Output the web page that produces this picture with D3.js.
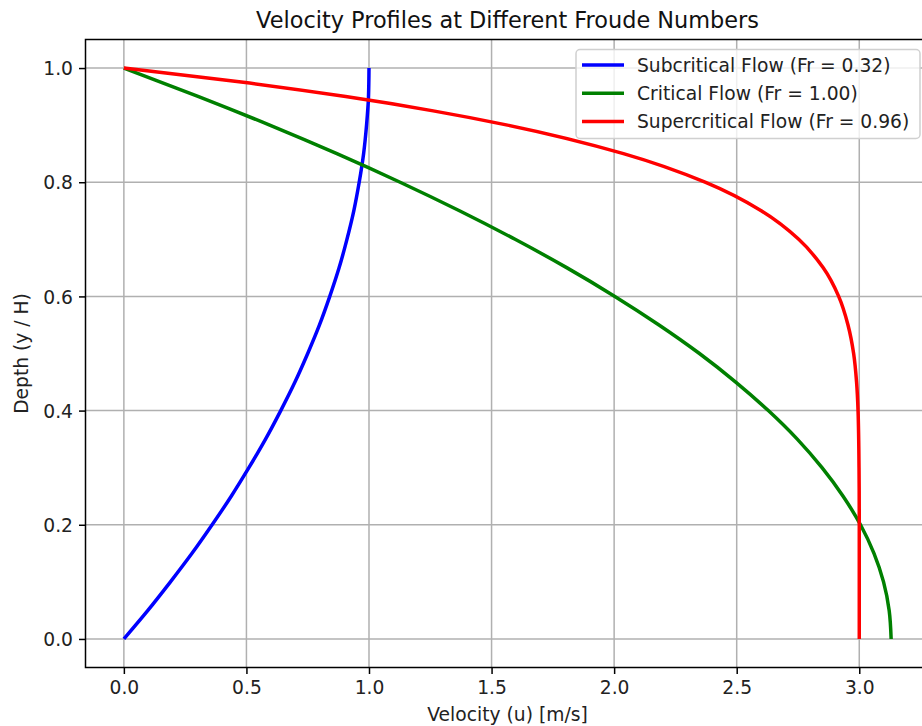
<!DOCTYPE html>
<html>
<head>
<meta charset="utf-8">
<script src="https://cdn.jsdelivr.net/npm/d3@7"></script>
<style>
  body { margin: 0; background: #fff; }
  svg { display: block; font-family: "DejaVu Sans", sans-serif; }
</style>
</head>
<body>
<div id="chart"></div>
<script>
// values
var depth = [0, 0.05, 0.1, 0.15, 0.2, 0.25, 0.3, 0.35, 0.4, 0.45, 0.5,
             0.55, 0.6, 0.65, 0.7, 0.75, 0.8, 0.85, 0.9, 0.95, 1.0];
var uSub = [0, 0.098, 0.19, 0.278, 0.36, 0.438, 0.51, 0.578, 0.64, 0.698, 0.75,
            0.798, 0.84, 0.878, 0.91, 0.938, 0.96, 0.978, 0.99, 0.998, 1.0];
var uCrit = [3.13, 3.122, 3.099, 3.06, 3.005, 2.934, 2.848, 2.747, 2.629, 2.496, 2.348,
             2.183, 2.003, 1.808, 1.596, 1.369, 1.127, 0.869, 0.595, 0.305, 0];
var depthSuper = [0, 0.1, 0.2, 0.3, 0.4, 0.45, 0.5, 0.55, 0.6, 0.65, 0.7,
                  0.75, 0.8, 0.85, 0.9, 0.925, 0.95, 0.975, 1.0];
var uSuper = [3.0, 3.0, 3.0, 2.999, 2.995, 2.989, 2.977, 2.954, 2.916, 2.853, 2.753,
              2.6, 2.371, 2.038, 1.565, 1.262, 0.905, 0.487, 0];

var xTicks = [0, 0.5, 1.0, 1.5, 2.0, 2.5, 3.0];
var yTicks = [0, 0.2, 0.4, 0.6, 0.8, 1.0];
var seriesNames = ["Subcritical Flow (Fr = 0.32)", "Critical Flow (Fr = 1.00)", "Supercritical Flow (Fr = 0.96)"];
var seriesColors = ["#0000ff", "#008000", "#ff0000"];

var svgWidth = 922, svgHeight = 726;
var plot = {left: 85.5, right: 929.5, top: 39.5, bottom: 667.5};
var fs = 18.7;

var svg = d3.select("#chart").append("svg")
  .attr("width", svgWidth)
  .attr("height", svgHeight);

var x = d3.scaleLinear().domain([-0.1565, 3.2865]).range([plot.left, plot.right]);
var y = d3.scaleLinear().domain([-0.05, 1.05]).range([plot.bottom, plot.top]);

svg.append("clipPath").attr("id", "clip")
  .append("rect")
  .attr("x", plot.left).attr("y", plot.top)
  .attr("width", plot.right - plot.left).attr("height", plot.bottom - plot.top);

// grid
var grid = svg.append("g").attr("stroke", "#b0b0b0").attr("stroke-width", 1.5);
grid.selectAll(".gx").data(xTicks).enter().append("line")
  .attr("x1", d => x(d)).attr("x2", d => x(d))
  .attr("y1", plot.top).attr("y2", plot.bottom);
grid.selectAll(".gy").data(yTicks).enter().append("line")
  .attr("x1", plot.left).attr("x2", plot.right)
  .attr("y1", d => y(d)).attr("y2", d => y(d));

// curves
var series = [
  depth.map((d, i) => [uSub[i], d]),
  depth.map((d, i) => [uCrit[i], d]),
  depthSuper.map((d, i) => [uSuper[i], d])
];
var line = d3.line()
  .x(d => x(d[0]))
  .y(d => y(d[1]))
  .curve(d3.curveMonotoneY);

svg.append("g").attr("clip-path", "url(#clip)")
  .selectAll("path").data(series).enter().append("path")
  .attr("d", line)
  .attr("fill", "none")
  .attr("stroke", (d, i) => seriesColors[i])
  .attr("stroke-width", 3.5)
  .attr("stroke-linejoin", "round")
  .attr("stroke-linecap", "butt");

// axes
var xAxis = svg.append("g")
  .attr("transform", `translate(0, ${plot.bottom})`)
  .call(d3.axisBottom(x).tickValues(xTicks).tickFormat(d3.format(".1f")).tickSize(6.5).tickPadding(5.5).tickSizeOuter(0));
var yAxis = svg.append("g")
  .attr("transform", `translate(${plot.left}, 0)`)
  .call(d3.axisLeft(y).tickValues(yTicks).tickFormat(d3.format(".1f")).tickSize(6.5).tickPadding(6).tickSizeOuter(0));

[xAxis, yAxis].forEach(function(ax) {
  ax.select(".domain").remove();
  ax.selectAll(".tick line").attr("stroke", "#000").attr("stroke-width", 1.5);
  ax.selectAll(".tick text")
    .attr("fill", "#222")
    .style("font-family", "DejaVu Sans")
    .style("font-size", fs + "px");
});
xAxis.selectAll(".tick text").attr("dy", "0.76em");
yAxis.selectAll(".tick text").attr("dy", "0.36em");

// spines (right one falls outside the picture)
svg.append("rect")
  .attr("x", plot.left).attr("y", plot.top)
  .attr("width", plot.right - plot.left).attr("height", plot.bottom - plot.top)
  .attr("fill", "none").attr("stroke", "#000").attr("stroke-width", 1.5);

// title and labels
svg.append("text")
  .attr("x", (plot.left + plot.right) / 2).attr("y", 28)
  .attr("text-anchor", "middle")
  .style("font-size", "22.4px")
  .attr("fill", "#111")
  .text("Velocity Profiles at Different Froude Numbers");

svg.append("text")
  .attr("x", (plot.left + plot.right) / 2).attr("y", 721)
  .attr("text-anchor", "middle")
  .style("font-size", fs + "px")
  .attr("fill", "#222")
  .text("Velocity (u) [m/s]");

svg.append("text")
  .attr("transform", `translate(28, ${(plot.top + plot.bottom) / 2}) rotate(-90)`)
  .attr("text-anchor", "middle")
  .style("font-size", fs + "px")
  .attr("fill", "#222")
  .text("Depth (y / H)");

// legend
var legend = svg.append("g");
legend.append("rect")
  .attr("x", 576).attr("y", 49.5)
  .attr("width", 344).attr("height", 89)
  .attr("rx", 4).attr("ry", 4)
  .attr("fill", "#fff").attr("fill-opacity", 0.8)
  .attr("stroke", "#d0d0d0").attr("stroke-width", 1.5);

var rows = legend.selectAll(".row").data(seriesNames).enter().append("g")
  .attr("transform", (d, i) => `translate(0, ${65 + i * 28.3})`);
rows.append("line")
  .attr("x1", 582).attr("x2", 624)
  .attr("y1", 0).attr("y2", 0)
  .attr("stroke", (d, i) => seriesColors[i])
  .attr("stroke-width", 3.5);
rows.append("text")
  .attr("x", 637).attr("y", 0).attr("dy", "0.36em")
  .style("font-size", fs + "px")
  .attr("fill", "#222")
  .text(d => d);
</script>
</body>
</html>
